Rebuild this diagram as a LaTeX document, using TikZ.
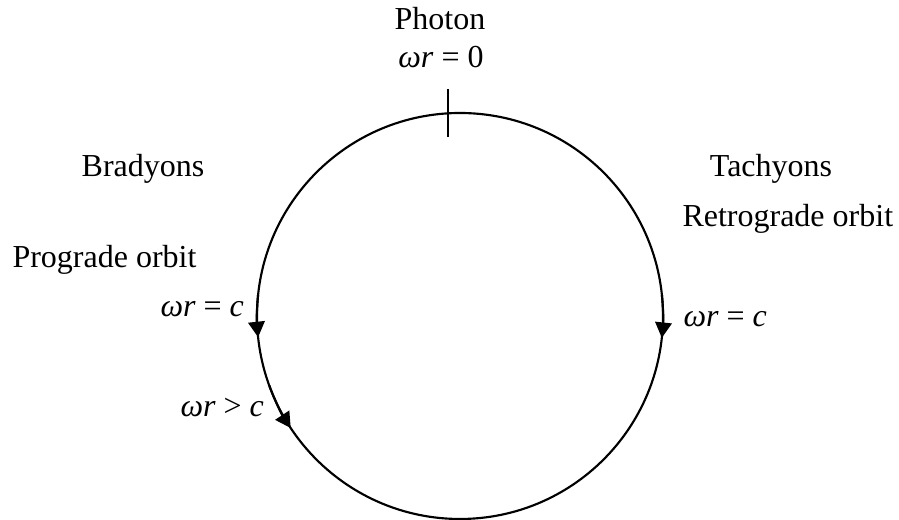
\documentclass[tikz,border=0pt]{standalone}
\usepackage{fontspec}
\setmainfont{Liberation Serif}
\usetikzlibrary{arrows.meta}

\begin{document}
\begin{tikzpicture}[x=0.375pt, y=0.375pt, every node/.style={font=\fontsize{12}{14}\selectfont, inner sep=0pt},
	orbit/.style={line width=0.8pt}, tip/.style={-{Triangle[length=5.8pt, width=6.2pt]}}]
	\useasboundingbox (0,0) rectangle (899,520);
	\coordinate (O) at (460,204);
	\draw[orbit] (O) circle[radius=203];
	% tick at the photon point
	\coordinate (tickA) at (448,431);
	\coordinate (tickB) at (448,383);
	\draw[orbit] (tickA) -- (tickB);
	% direction of motion
	\foreach \a/\b in {174/186, 200/213.5, 6/-6.2}
		\draw[orbit, tip] ([shift={(O)}]\a:203) arc[start angle=\a, end angle=\b, radius=203];
	% labels
	\node[anchor=base] (photon) at (440,490) {Photon};
	\node[anchor=base] (zero) at (441,452) {\textit{ωr} = 0};
	\node[anchor=base] (brady) at (143,343) {Bradyons};
	\node[anchor=base] (tachy) at (771,343) {Tachyons};
	\node[anchor=base west] (pro) at (12,252) {Prograde orbit};
	\node[anchor=base west] (retro) at (682,293) {Retrograde orbit};
	\node[anchor=base west] (eqL) at (160,203) {\textit{ωr} = \textit{c}};
	\node[anchor=base west] (gtL) at (180,103) {\textit{ωr} > \textit{c}};
	\node[anchor=base west] (eqR) at (683,193) {\textit{ωr} = \textit{c}};
\end{tikzpicture}
\end{document}
